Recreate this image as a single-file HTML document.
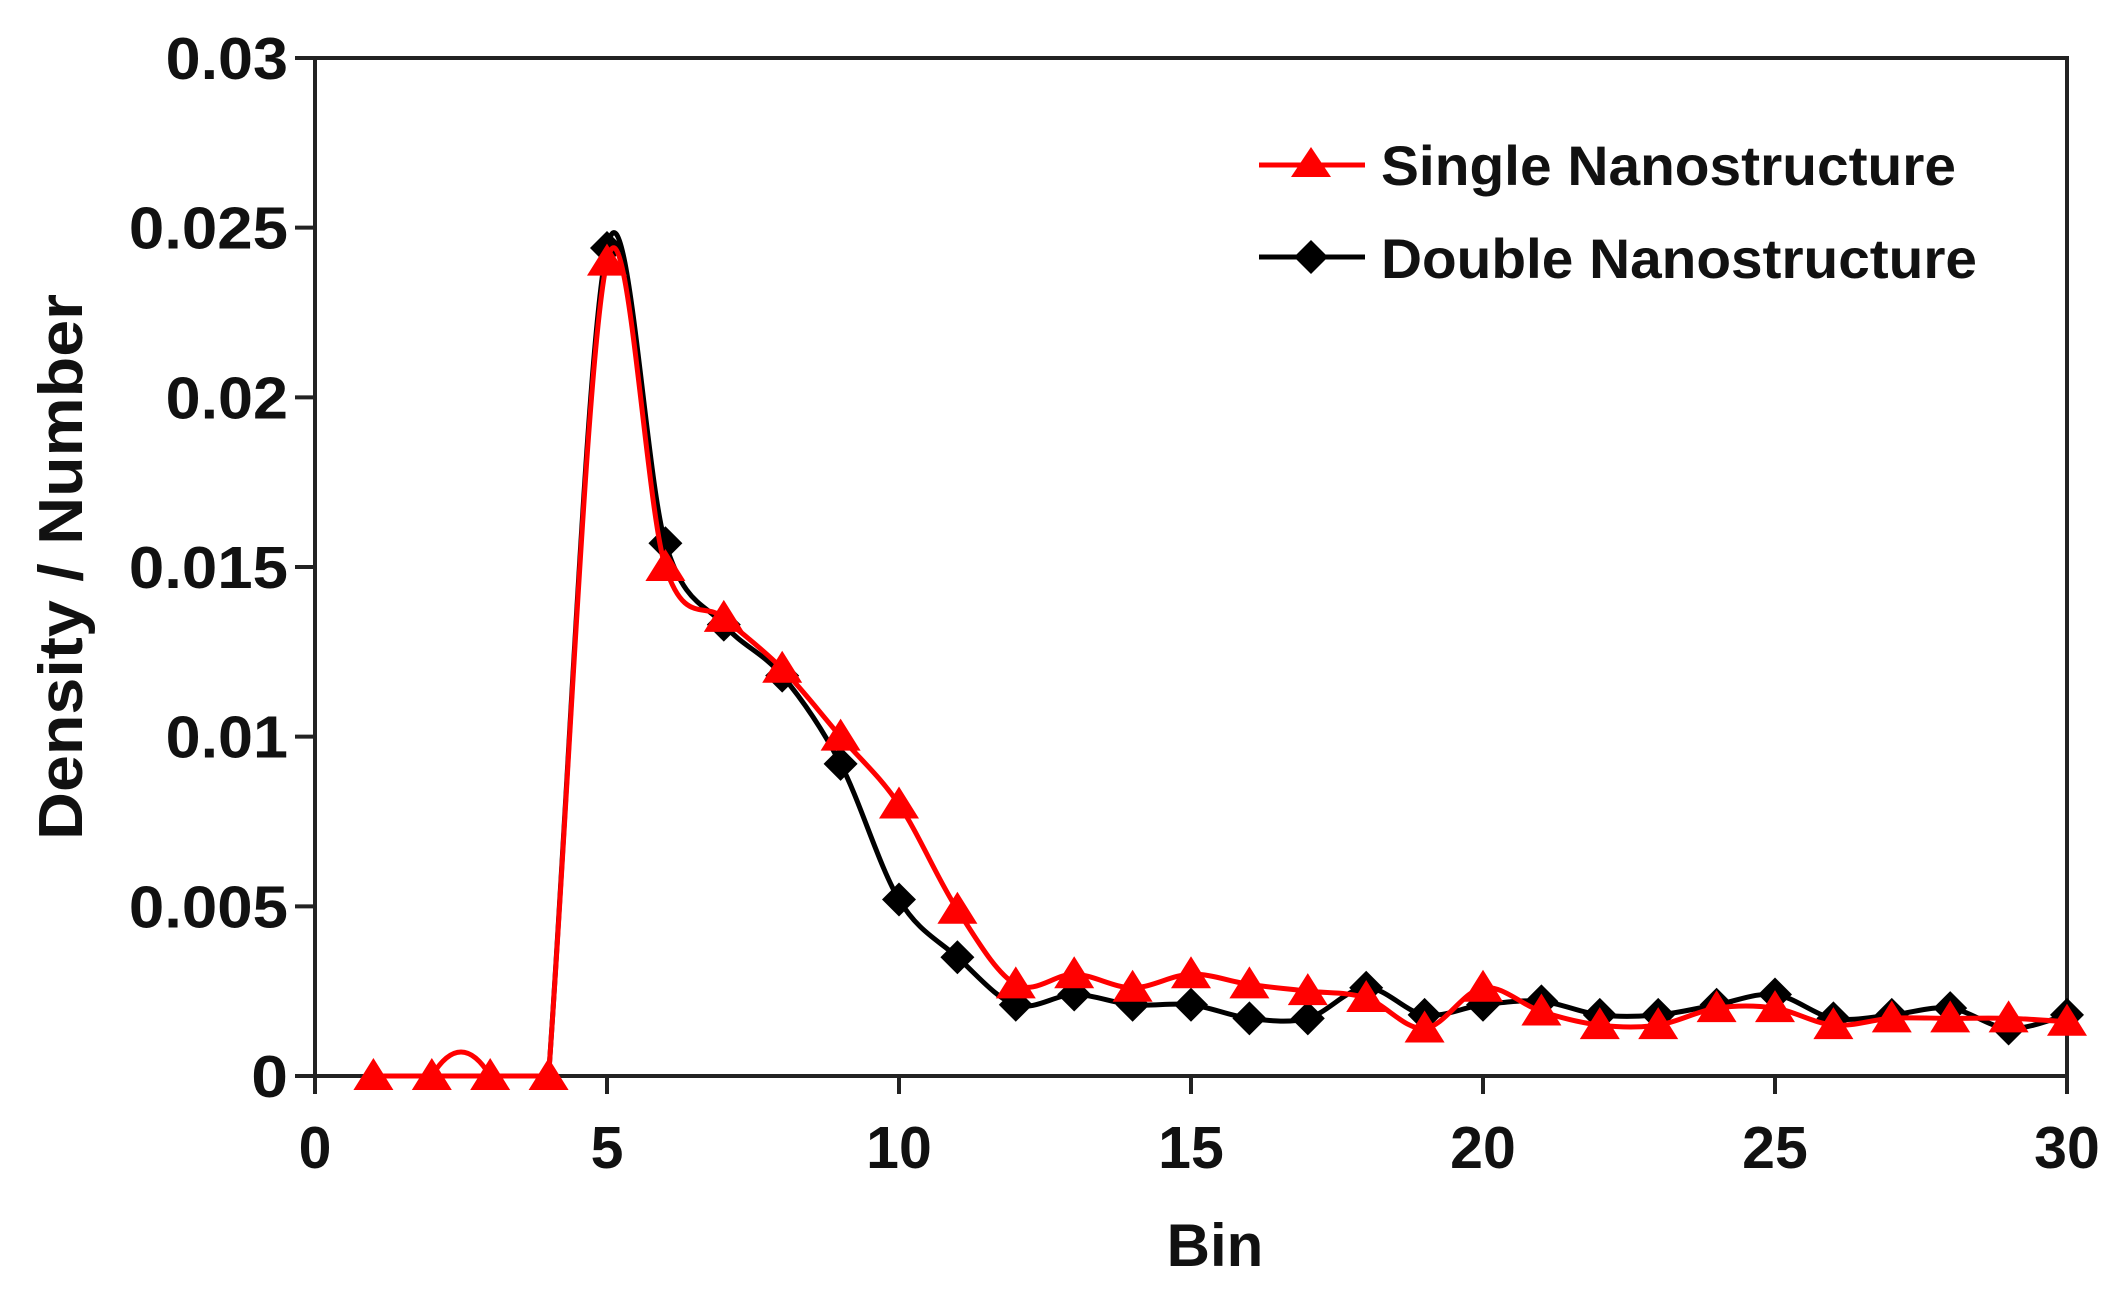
<!DOCTYPE html>
<html><head><meta charset="utf-8"><style>
html,body{margin:0;padding:0;background:#fff;}
svg{display:block;font-family:"Liberation Sans",sans-serif;font-weight:bold;}
</style></head><body>
<svg id="s" width="2123" height="1298" viewBox="0 0 2123 1298" xmlns="http://www.w3.org/2000/svg">
<rect x="315" y="58" width="1752" height="1018" fill="none" stroke="#222" stroke-width="4"/>
<g id="ticks" stroke="#222" stroke-width="4"></g>
<g id="labels" font-size="59" fill="#111"></g>
<text x="1215" y="1266" font-size="60" text-anchor="middle" fill="#111">Bin</text>
<text transform="translate(82,567) rotate(-90)" font-size="62" text-anchor="middle" textLength="546" lengthAdjust="spacingAndGlyphs" fill="#111">Density / Number</text>
<g id="plot"></g>
<line x1="1259" y1="165" x2="1365" y2="165" stroke="#f00" stroke-width="5"/>
<polygon points="1311,147 1331,177 1291,177" fill="#f00"/>
<line x1="1259" y1="257" x2="1365" y2="257" stroke="#000" stroke-width="5"/>
<polygon points="1311,240 1328,257 1311,274 1294,257" fill="#000"/>
<text x="1381" y="185" font-size="56" textLength="575" lengthAdjust="spacingAndGlyphs" fill="#111">Single Nanostructure</text>
<text x="1381" y="278" font-size="56" textLength="596" lengthAdjust="spacingAndGlyphs" fill="#111">Double Nanostructure</text>
</svg>
<script>
var NS="http://www.w3.org/2000/svg";
function X(v){return 315+v*1752/30;}
function Y(v){return 1076-v*1018/0.03;}
var T=document.getElementById("ticks"),L=document.getElementById("labels"),P=document.getElementById("plot");
function el(t,a,p){var e=document.createElementNS(NS,t);for(var k in a)e.setAttribute(k,a[k]);p.appendChild(e);return e;}
var yl=["0","0.005","0.01","0.015","0.02","0.025","0.03"],yw=[36,156,120,156,120,156,120];
for(var i=0;i<=6;i++){var y=Y(i*0.005);el("line",{x1:295,y1:y,x2:315,y2:y},T);
 var t=el("text",{x:288-yw[i]*1.02,y:y+21,textLength:yw[i]*1.02,lengthAdjust:"spacingAndGlyphs"},L);t.textContent=yl[i];}
for(var i=0;i<=6;i++){var x=X(i*5);el("line",{x1:x,y1:1076,x2:x,y2:1094},T);
 var t=el("text",{x:x,y:1168,"text-anchor":"middle"},L);t.textContent=String(i*5);}
var red=[0,0,0,0,0.0240,0.0150,0.0135,0.0120,0.0100,0.0080,0.0049,0.0027,0.0030,0.0026,0.0030,0.0027,0.0025,0.0023,0.0014,0.0026,0.0019,0.0015,0.0015,0.0020,0.0020,0.0015,0.0017,0.0017,0.0017,0.0016];
var blk=[0,0,0,0,0.0244,0.0157,0.0133,0.0118,0.0092,0.0052,0.0035,0.0021,0.0024,0.0021,0.0021,0.0017,0.0017,0.0026,0.0018,0.0021,0.0022,0.0018,0.0018,0.0021,0.0024,0.0017,0.0018,0.0020,0.0014,0.0018];
function path(d){var p=d.map(function(v,i){return [X(i+1),Y(v)];});var s="M"+p[0][0]+","+p[0][1];
 for(var i=0;i<p.length-1;i++){var p0=p[Math.max(0,i-1)],p1=p[i],p2=p[i+1],p3=p[Math.min(p.length-1,i+2)];
  if(d[i]==0&&d[i+1]==0){s+=" L"+p2[0]+","+p2[1];continue;}
  var t1y=(d[i]==0)?(p2[1]-p1[1])/3:(p2[1]-p0[1])/6;
  s+=" C"+(p1[0]+(p2[0]-p0[0])/6)+","+(p1[1]+t1y)+" "+(p2[0]-(p3[0]-p1[0])/6)+","+(p2[1]-(p3[1]-p1[1])/6)+" "+p2[0]+","+p2[1];}
 return s;}
el("path",{d:path(blk),fill:"none",stroke:"#000","stroke-width":5},P);
blk.forEach(function(v,i){if(i<4)return;var x=X(i+1),y=Y(v);el("polygon",{points:x+","+(y-17)+" "+(x+17)+","+y+" "+x+","+(y+17)+" "+(x-17)+","+y,fill:"#000"},P);});
el("path",{d:path(red),fill:"none",stroke:"#f00","stroke-width":5},P);
el("path",{d:"M"+X(2)+","+Y(0)+" Q"+X(2.5)+","+(Y(0)-48)+" "+X(3)+","+Y(0),fill:"none",stroke:"#f00","stroke-width":5},P);
red.forEach(function(v,i){var x=X(i+1),y=Y(v);el("polygon",{points:x+","+(y-18)+" "+(x+20)+","+(y+14)+" "+(x-20)+","+(y+14),fill:"#f00"},P);});
</script>
</body></html>
